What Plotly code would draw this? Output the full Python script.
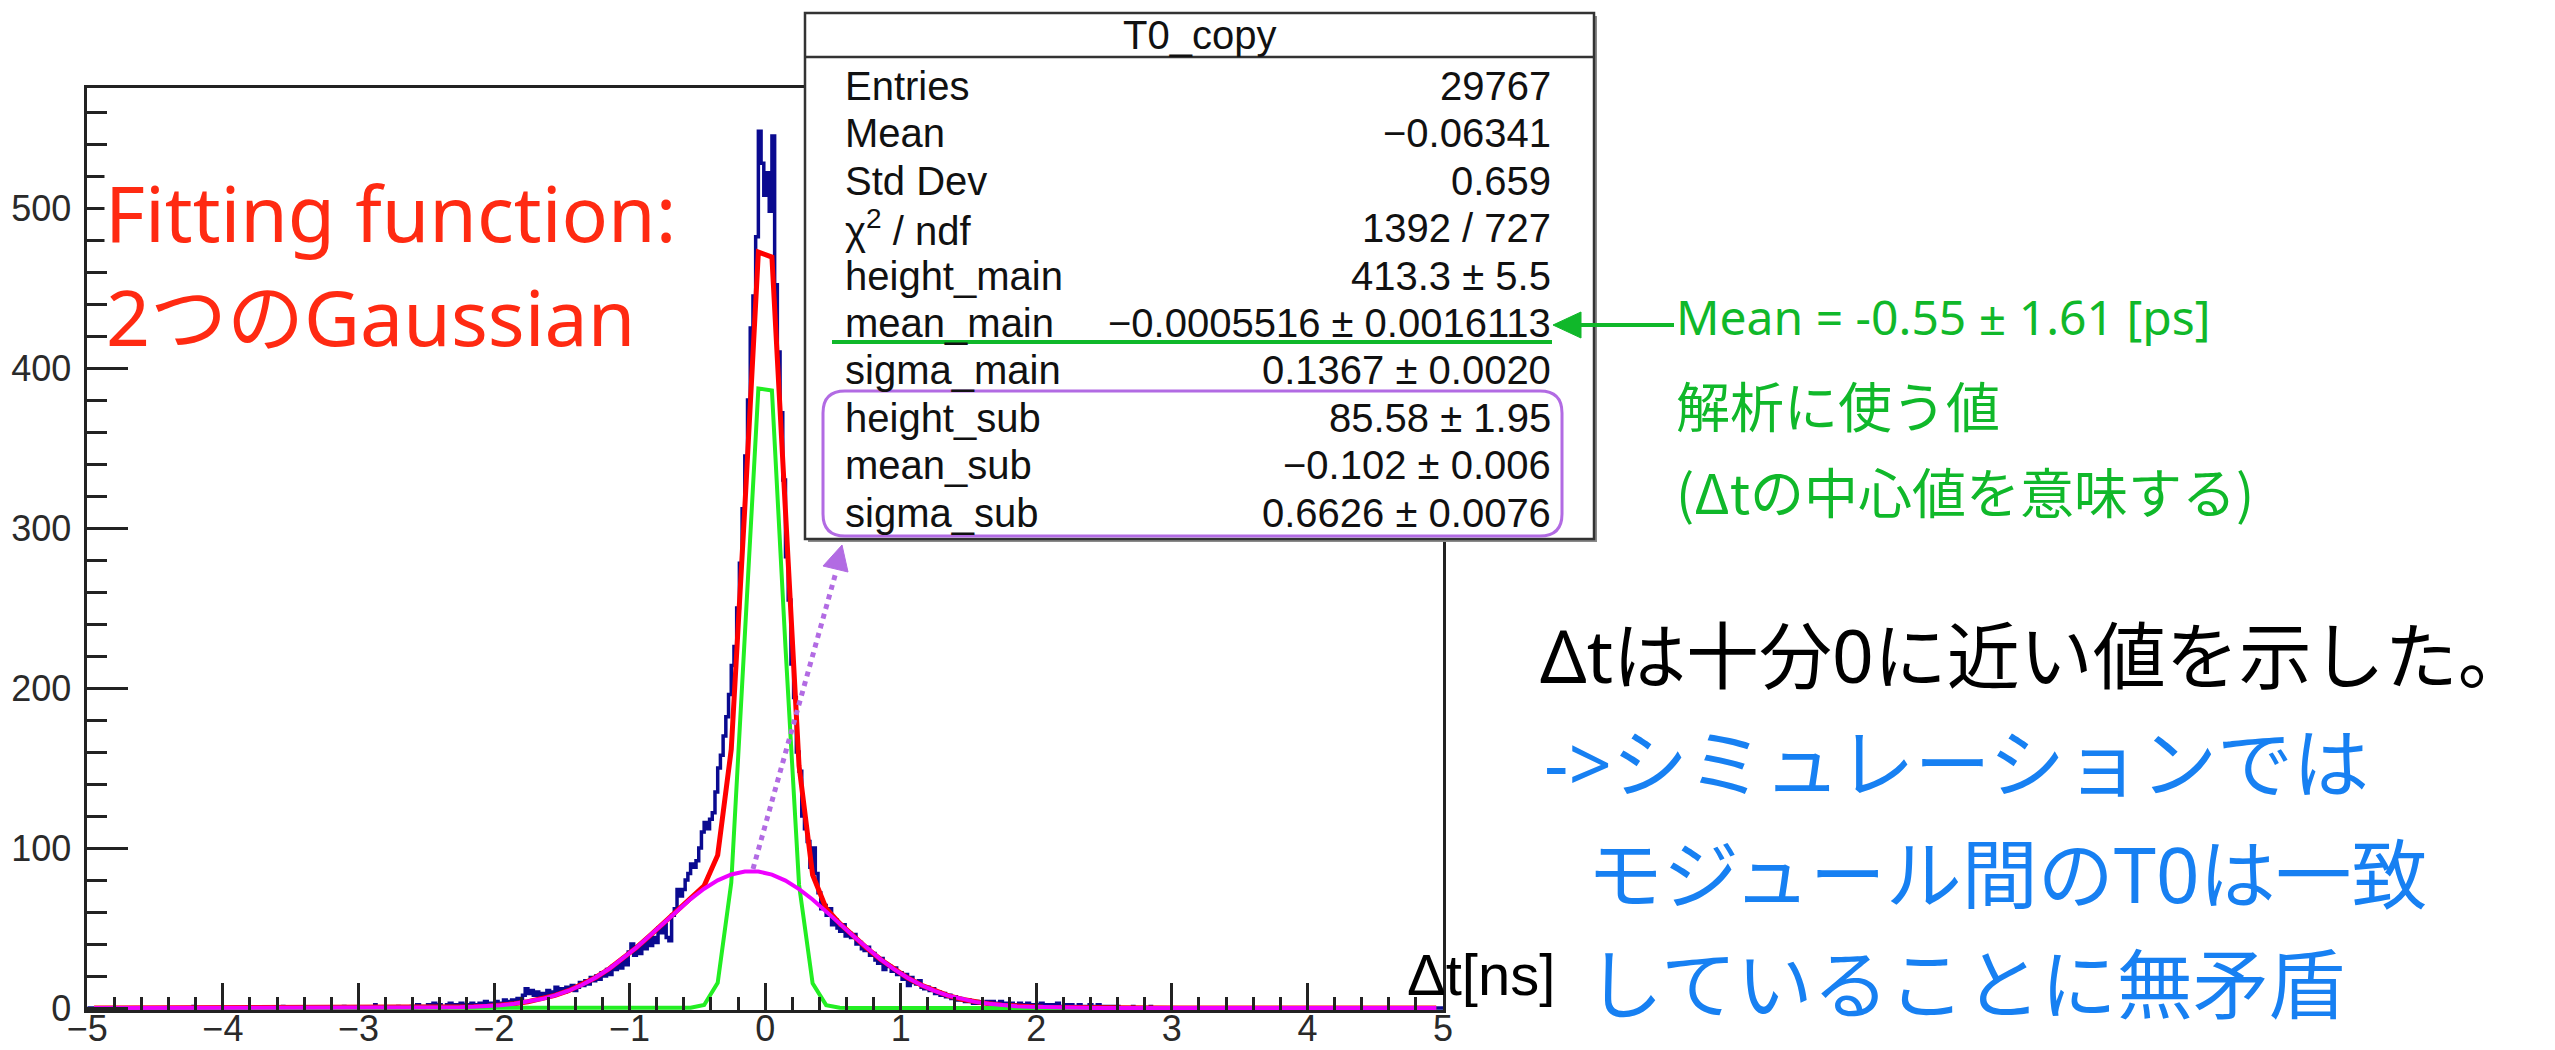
import numpy as np
import plotly.graph_objects as go

W, H = 2555, 1050

# ---------------- data ----------------
# histogram counts (per 0.01 ns bin), read at 0.02 ns steps, centres from -2.60 to 2.60
hist_first_center = -2.60
hist_step = 0.02
hist_counts = [
    1, 0, 2, 1, 0, 1, 2, 1, 3, 1,
    2, 1, 0, 2, 3, 1, 2, 1, 3, 2,
    1, 2, 3, 2, 1, 3, 2, 4, 2, 3,
    2, 4, 3, 2, 5, 3, 4, 5, 3, 6,
    5, 8, 12, 9, 11, 8, 10, 7, 9, 8,
    11, 9, 10, 13, 11, 12, 10, 13, 12, 14,
    11, 13, 16, 14, 17, 15, 19, 17, 20, 18,
    22, 20, 24, 21, 26, 24, 28, 25, 31, 27,
    35, 40, 33, 37, 34, 40, 37, 43, 39, 44,
    41, 50, 47, 52, 44, 42, 58, 62, 74, 70,
    74, 80, 84, 90, 88, 92, 100, 110, 116, 112,
    118, 122, 135, 150, 158, 170, 182, 196, 214, 226,
    250, 278, 312, 345, 380, 425, 445, 482, 548, 528,
    508, 522, 498, 545, 452, 410, 372, 330, 282, 255,
    215, 194, 160, 148, 120, 112, 104, 88, 100, 84,
    72, 62, 64, 58, 62, 52, 55, 50, 48, 52,
    45,
    47, 44, 46, 40, 41, 37, 36, 38, 33, 34,
    30, 28, 31, 24, 27, 26, 23, 25, 21, 22,
    18, 21, 14, 19, 16, 15, 17, 13, 12, 13,
    11, 12, 9, 10, 8, 9, 7, 8, 6, 7,
    5, 6, 5, 4, 5, 4, 3, 4, 3, 3,
    3, 4, 2, 4, 3, 2, 4, 2, 3, 2,
    3, 2, 1, 3, 2, 1, 3, 2, 1, 2,
    1, 3, 1, 2, 1, 2, 1, 3, 1, 1,
    2, 1, 2, 0, 1, 2, 0, 1, 1, 2,
    0, 1, 2, 0, 1, 1, 0, 1, 0, 1,
]
# isolated entries far in the tails (bin centre, count)
tail_centers = [-4.215, -3.555, -3.105, -2.875, -2.705, 2.715, 2.845]
tail_counts = [1, 1, 1, 2, 1, 1, 1]

# fit parameters (from the stats box)
fit_height = [413.3, 85.58]
fit_mean = [-0.0005516, -0.102]
fit_sigma = [0.1367, 0.6626]

stats_title = "T0_copy"
stats_labels = ["Entries", "Mean", "Std Dev", "χ<sup>2</sup> / ndf", "height_main",
                "mean_main", "sigma_main", "height_sub", "mean_sub", "sigma_sub"]
stats_values = ["29767", "−0.06341", "0.659", "1392 / 727", "413.3 ± 5.5",
                "−0.0005516 ± 0.0016113", "0.1367 ± 0.0020", "85.58 ± 1.95",
                "−0.102 ± 0.006", "0.6626 ± 0.0076"]

x_tick_vals = [-5, -4, -3, -2, -1, 0, 1, 2, 3, 4, 5]
y_tick_vals = [0, 100, 200, 300, 400, 500]

# ---------------- build histogram on 0.01 grid ----------------
fine = 0.01
nb = 1000
grid = np.zeros(nb)
for i, c in enumerate(hist_counts):
    lo = hist_first_center + i * hist_step - hist_step / 2
    k = int(round((lo + 5) / fine))
    grid[k] = c
    grid[k + 1] = c
for xc, c in zip(tail_centers, tail_counts):
    k = int(np.floor((xc + 5) / fine))
    grid[k] = c
edges = -5 + fine * np.arange(nb + 1)
hy = np.append(grid, grid[-1])

# fit curves, sampled like ROOT (100 points)
fx = -4.95 + 0.1 * np.arange(100)


def gauss(x, h, m, s):
    return h * np.exp(-0.5 * ((x - m) / s) ** 2)


main_y = gauss(fx, fit_height[0], fit_mean[0], fit_sigma[0])
sub_y = gauss(fx, fit_height[1], fit_mean[1], fit_sigma[1])
tot_y = main_y + sub_y

# ---------------- layout geometry (pixels) ----------------
def X(p):
    return p / W


def Y(p):
    return 1 - p / H


ax_left, ax_right = 87.3, 1443.0
y_bottom_px, y_top_px = 1010.4, 88.0   # y=-1.5 and y=575

fig = go.Figure()
fig.add_trace(go.Scatter(x=edges, y=hy, mode="lines", line=dict(color="#0a0a90", width=3.5, shape="hv"),
                         hoverinfo="skip", showlegend=False))
fig.add_trace(go.Scatter(x=fx, y=tot_y, mode="lines", line=dict(color="#ff0000", width=5),
                         hoverinfo="skip", showlegend=False))
fig.add_trace(go.Scatter(x=fx, y=main_y, mode="lines", line=dict(color="#22ee22", width=4),
                         hoverinfo="skip", showlegend=False))
fig.add_trace(go.Scatter(x=fx, y=sub_y, mode="lines", line=dict(color="#ee00ff", width=4),
                         hoverinfo="skip", showlegend=False))

axis_col = "#222222"
tick_font = dict(family="Liberation Sans, Arial, sans-serif", size=36, color="#2a2a2a")

fig.update_layout(
    width=W, height=H, autosize=False,
    margin=dict(l=0, r=0, t=0, b=0, pad=0),
    paper_bgcolor="white", plot_bgcolor="white",
    xaxis=dict(domain=[X(ax_left), X(ax_right)], range=[-5, 5], automargin=False,
               showline=True, linecolor=axis_col, linewidth=2.5, mirror=True,
               ticks="inside", ticklen=28, tickwidth=2.5, tickcolor=axis_col,
               tickvals=x_tick_vals, ticktext=[("−" + str(-v)) if v < 0 else str(v) for v in x_tick_vals],
               minor=dict(ticks="inside", ticklen=14, tickwidth=2.5, tickcolor=axis_col, dtick=0.2, tick0=0),
               showgrid=False, zeroline=False, tickfont=tick_font, ticklabelstandoff=-15),
    yaxis=dict(domain=[Y(y_bottom_px), Y(y_top_px)], range=[-1.5, 575], automargin=False,
               showline=True, linecolor=axis_col, linewidth=2.5, mirror=True,
               ticks="inside", ticklen=41, tickwidth=2.5, tickcolor=axis_col,
               tickvals=y_tick_vals, ticktext=[str(v) for v in y_tick_vals],
               minor=dict(ticks="inside", ticklen=20, tickwidth=2.5, tickcolor=axis_col, dtick=20, tick0=0),
               showgrid=False, zeroline=False, tickfont=tick_font, ticklabelstandoff=6),
)

shapes = []
# stats box (shadow, box, title divider)
bx0, by0, bx1, by1 = 805, 13, 1594, 539
shapes.append(dict(type="rect", xref="paper", yref="paper", x0=X(bx0 + 3), x1=X(bx1 + 3), y0=Y(by0 + 3), y1=Y(by1 + 3),
                   fillcolor="#8a8a8a", line=dict(width=0), layer="above"))
shapes.append(dict(type="rect", xref="paper", yref="paper", x0=X(bx0), x1=X(bx1), y0=Y(by0), y1=Y(by1),
                   fillcolor="white", line=dict(color="#333333", width=2.5), layer="above"))
shapes.append(dict(type="line", xref="paper", yref="paper", x0=X(bx0), x1=X(bx1), y0=Y(57), y1=Y(57),
                   line=dict(color="#333333", width=2.5), layer="above"))


def rounded(x0, y0, x1, y1, r):
    return (f"M {X(x0 + r)},{Y(y0)} L {X(x1 - r)},{Y(y0)} Q {X(x1)},{Y(y0)} {X(x1)},{Y(y0 + r)} "
            f"L {X(x1)},{Y(y1 - r)} Q {X(x1)},{Y(y1)} {X(x1 - r)},{Y(y1)} "
            f"L {X(x0 + r)},{Y(y1)} Q {X(x0)},{Y(y1)} {X(x0)},{Y(y1 - r)} "
            f"L {X(x0)},{Y(y0 + r)} Q {X(x0)},{Y(y0)} {X(x0 + r)},{Y(y0)} Z")


purple = "#b26be3"
green = "#10b82a"
shapes.append(dict(type="path", xref="paper", yref="paper", path=rounded(823, 391, 1562, 536, 22),
                   line=dict(color=purple, width=3), fillcolor="rgba(0,0,0,0)", layer="above"))
# green underline under mean_main
shapes.append(dict(type="line", xref="paper", yref="paper", x0=X(832), x1=X(1552), y0=Y(342), y1=Y(342),
                   line=dict(color=green, width=4), layer="above"))
# green arrow
shapes.append(dict(type="line", xref="paper", yref="paper", x0=X(1674), x1=X(1575), y0=Y(325), y1=Y(325),
                   line=dict(color=green, width=4), layer="above"))
shapes.append(dict(type="path", xref="paper", yref="paper",
                   path=f"M {X(1553)},{Y(325)} L {X(1581)},{Y(312)} L {X(1581)},{Y(338)} Z",
                   fillcolor=green, line=dict(color=green, width=1), layer="above"))
# purple dotted arrow from sub-gaussian peak to the box
shapes.append(dict(type="line", xref="paper", yref="paper", x0=X(753), y0=Y(869), x1=X(836), y1=Y(572),
                   line=dict(color=purple, width=5, dash="dot"), layer="above"))
shapes.append(dict(type="path", xref="paper", yref="paper",
                   path=f"M {X(842)},{Y(545)} L {X(823)},{Y(566)} L {X(848)},{Y(572)} Z",
                   fillcolor=purple, line=dict(color=purple, width=1), layer="above"))
fig.update_layout(shapes=shapes)

ann = []
stat_font = dict(family="Liberation Sans, Arial, sans-serif", size=40, color="#111111")
ann.append(dict(xref="paper", yref="paper", x=X((bx0 + bx1) / 2), y=Y(35), text=stats_title, showarrow=False,
                xanchor="center", yanchor="middle", font=stat_font))
for i, (lab, val) in enumerate(zip(stats_labels, stats_values)):
    yy = 86 + 47.4 * i
    ann.append(dict(xref="paper", yref="paper", x=X(843), y=Y(yy), text=lab, showarrow=False,
                    xanchor="left", yanchor="middle", font=stat_font))
    ann.append(dict(xref="paper", yref="paper", x=X(1553), y=Y(yy), text=val, showarrow=False,
                    xanchor="right", yanchor="middle", font=stat_font))

jp = "Noto Sans, Noto Sans CJK JP, sans-serif"
jpc = "Noto Sans CJK JP, sans-serif"
red_txt = "#ff2a12"
ann.append(dict(xref="paper", yref="paper", x=X(104), y=Y(212), text="Fitting function:", showarrow=False,
                xanchor="left", yanchor="middle", font=dict(family=jp, size=77, color=red_txt),
                bgcolor="white", borderpad=0))
ann.append(dict(xref="paper", yref="paper", x=X(104), y=Y(316), text="2つのGaussian", showarrow=False,
                xanchor="left", yanchor="middle", font=dict(family=jp, size=77, color=red_txt)))

ann.append(dict(xref="paper", yref="paper", x=X(1674), y=Y(316), text="Mean = -0.55 ± 1.61 [ps]", showarrow=False,
                xanchor="left", yanchor="middle", font=dict(family="Noto Sans, sans-serif", size=48, color=green)))
for txt, yy in [("解析に使う値", 404), ("(Δtの中心値を意味する)", 490)]:
    ann.append(dict(xref="paper", yref="paper", x=X(1674), y=Y(yy), text=txt, showarrow=False,
                    xanchor="left", yanchor="middle", font=dict(family=jpc, size=54, color=green)))

blue_txt = "#1780f2"
ann.append(dict(xref="paper", yref="paper", x=X(1538), y=Y(654), text="Δtは十分0に近い値を示した。", showarrow=False,
                xanchor="left", yanchor="middle", font=dict(family=jp, size=73, color="#000000")))
for txt, xx, yy in [("->シミュレーションでは", 1542, 762), ("モジュール間のT0は一致", 1585, 873),
                    ("していることに無矛盾", 1585, 983)]:
    ann.append(dict(xref="paper", yref="paper", x=X(xx), y=Y(yy), text=txt, showarrow=False,
                    xanchor="left", yanchor="middle", font=dict(family=jp, size=76, color=blue_txt)))

ann.append(dict(xref="paper", yref="paper", x=X(1405), y=Y(974), text="Δt[ns]", showarrow=False,
                xanchor="left", yanchor="middle",
                font=dict(family="Liberation Sans, Arial, sans-serif", size=58, color="#000000")))

fig.update_layout(annotations=ann)

fig.write_html("out.html")
